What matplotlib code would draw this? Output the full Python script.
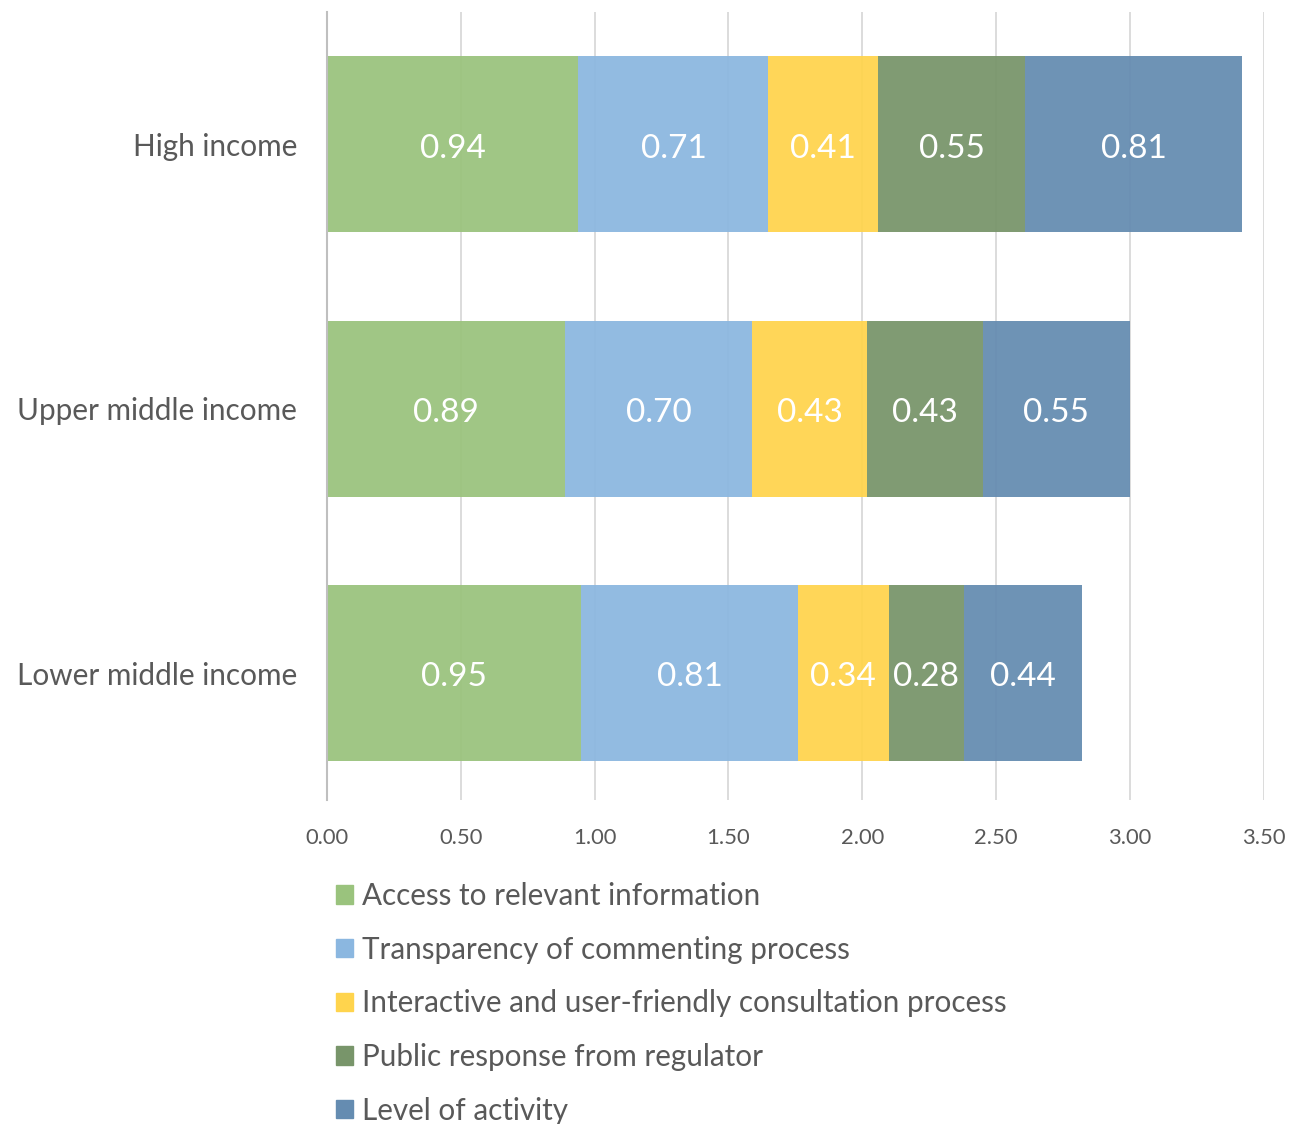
import numpy as np
import matplotlib.pyplot as plt
from matplotlib.patches import Patch

plt.rcParams['font.family'] = ['Lato', 'DejaVu Sans']

groups = ['Lower middle income', 'Upper middle income', 'High income']
series = ['Access to relevant information',
          'Transparency of commenting process',
          'Interactive and user-friendly consultation process',
          'Public response from regulator',
          'Level of activity']
# values per series, in the order of groups (bottom to top)
access = [0.95, 0.89, 0.94]
transparency = [0.81, 0.70, 0.71]
interactive = [0.34, 0.43, 0.41]
response = [0.28, 0.43, 0.55]
activity = [0.44, 0.55, 0.81]
values = [access, transparency, interactive, response, activity]
colors = ['#9AC37D', '#8BB7E0', '#FFD44D', '#78956A', '#658CB1']
xticks = [0.0, 0.5, 1.0, 1.5, 2.0, 2.5, 3.0, 3.5]

gray = '#595959'
fig = plt.figure(figsize=(12.92, 11.24), dpi=100)
ax = fig.add_axes([0.253, 0.2883, 0.725, 0.701])

y = np.arange(len(groups))
left = np.zeros(len(groups))
for vals, col in zip(values, colors):
    vals = np.array(vals)
    ax.barh(y, vals, left=left, height=0.665, color=col, alpha=0.94, zorder=2)
    for yi, l, v in zip(y, left, vals):
        ax.text(l + v / 2, yi - 0.005, '{:.2f}'.format(v), ha='center', va='center_baseline',
                color='white', fontsize=24, zorder=3)
    left += vals

ax.set_xlim(0, 3.5)
ax.set_ylim(-0.48, 2.5)
ax.set_xticks(xticks)
ax.set_xticklabels(['{:.2f}'.format(t) for t in xticks], color=gray, fontsize=15.8)
ax.set_yticks(y)
ax.set_yticklabels(groups, color=gray, fontsize=21.4)
ax.tick_params(axis='both', length=0)
ax.tick_params(axis='x', pad=20)
ax.tick_params(axis='y', pad=21.5)
ax.grid(axis='x', color='#D9D9D9', lw=1.3, zorder=0)
ax.set_axisbelow(True)
for s in ['top', 'right', 'bottom']:
    ax.spines[s].set_visible(False)
ax.spines['left'].set_color('#BFBFBF')
ax.spines['left'].set_linewidth(1.5)
ax.spines['left'].set_zorder(4)

handles = [Patch(color=c) for c in colors]
fig.legend(handles, series, loc='upper left', bbox_to_anchor=(0.26, 0.2155),
           frameon=False, fontsize=21.3, labelcolor=gray,
           handlelength=0.58, handleheight=0.58, handletextpad=0.3,
           labelspacing=0.87, borderaxespad=0, borderpad=0)

plt.savefig('out.png', dpi=100)
